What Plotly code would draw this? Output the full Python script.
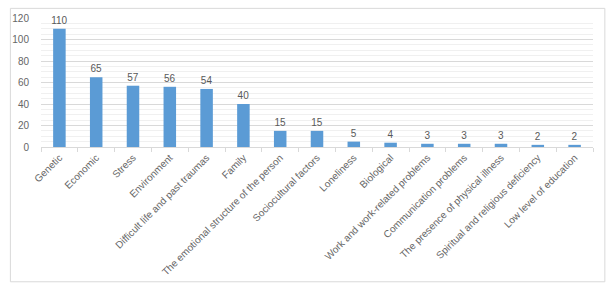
import plotly.graph_objects as go

categories = ["Genetic", "Economic", "Stress", "Environment", "Difficult life and past traumas",
              "Family", "The emotional structure of the person", "Sociocultural factors",
              "Loneliness", "Biological", "Work and work-related problems",
              "Communication problems", "The presence of physical illness",
              "Spiritual and religious deficiency", "Low level of education"]
values = [110, 65, 57, 56, 54, 40, 15, 15, 5, 4, 3, 3, 3, 2, 2]
y_ticks = [0, 20, 40, 60, 80, 100, 120]

W, H = 610, 291
ml, mr, mt, mb = 34, 17, 13, 144
pw, ph = W - ml - mr, H - mt - mb

fig = go.Figure(go.Bar(
    x=categories, y=values, marker_color="#5B9BD5", marker_line_width=0,
    text=values, textposition="outside", cliponaxis=False, constraintext="none",
    textfont=dict(size=10, color="#595959"),
))

fig.update_layout(
    width=W, height=H, margin=dict(l=ml, r=mr, t=mt, b=mb),
    paper_bgcolor="white", plot_bgcolor="white",
    font=dict(family="Liberation Sans, Arial", size=9, color="#595959"),
    bargap=0.66, showlegend=False,
    xaxis=dict(tickangle=-45, showline=True, linecolor="#D9D9D9", linewidth=1,
               ticks="outside", tickson="boundaries", ticklen=4, tickcolor="#D9D9D9",
               showgrid=False, tickfont=dict(size=10, color="#666666")),
    yaxis=dict(range=[0, 120], tickvals=y_ticks, showgrid=True, gridcolor="#D9D9D9",
               gridwidth=1, zeroline=False, showline=False,
               minor=dict(dtick=5, showgrid=True, gridcolor="#F0F0F0", gridwidth=1),
               tickfont=dict(size=10, color="#666666"), ticklabelstandoff=11),
    shapes=[dict(type="rect", xref="paper", yref="paper",
                 x0=(3 - ml) / pw, x1=(605 - ml) / pw,
                 y0=(mt + ph - 287) / ph, y1=(mt + ph - 3) / ph,
                 line=dict(color="#D9D9D9", width=1), layer="below")],
)

fig.write_html("out.html")
